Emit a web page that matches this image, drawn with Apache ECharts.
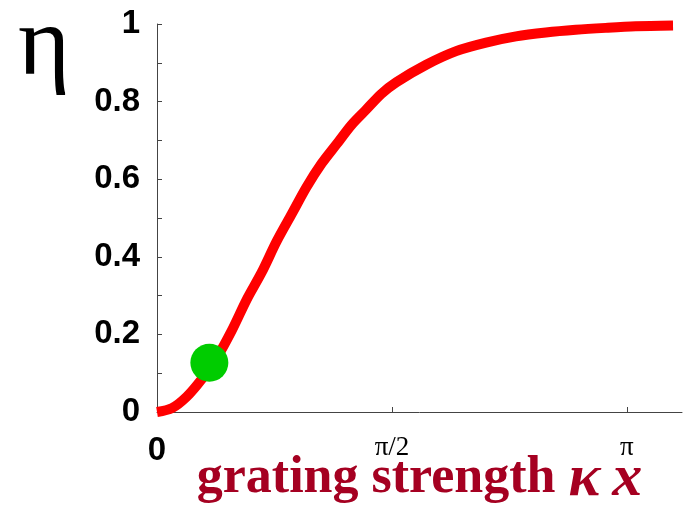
<!DOCTYPE html>
<html>
<head>
<meta charset="utf-8">
<script src="https://cdn.jsdelivr.net/npm/echarts@6/dist/echarts.min.js"></script>
<style>
  html, body { margin: 0; padding: 0; background: #fff; }
  #main { width: 685px; height: 505px; }
</style>
</head>
<body>
<div id="main"></div>
<script>
// grating strength kx (radians) and efficiency
var kx = [0, 0.1, 0.2, 0.3, 0.4, 0.5, 0.6, 0.7, 0.8, 0.9, 1.0, 1.1, 1.2, 1.3, 1.4, 1.5, 1.6, 1.8, 2.0, 2.2, 2.4, 2.6, 2.8, 3.0, 3.2, 3.45];
var eta = [0, 0.01, 0.04, 0.085, 0.14, 0.21, 0.29, 0.36, 0.44, 0.51, 0.58, 0.64, 0.69, 0.74, 0.78, 0.82, 0.85, 0.895, 0.93, 0.952, 0.968, 0.978, 0.985, 0.99, 0.994, 0.996];
// green marker
var markPoint = [0.35, 0.127];
// x tick labels (0, pi/2, pi)
var xTickLabels = ['0', 'π/2', 'π'];

var curve = [];
for (var i = 0; i < kx.length; i++) {
  curve.push([kx[i], eta[i]]);
}

var axisColor = '#444';

var option = {
  backgroundColor: '#fff',
  animation: false,
  grid: {
    left: 157,
    right: 3,
    top: 24,
    bottom: 93,
    containLabel: false,
    outerBoundsMode: 'none'
  },
  graphic: [
    {
      type: 'text',
      left: 18,
      top: -2,
      style: {
        text: 'η',
        font: '100px "Liberation Serif"',
        fill: '#000'
      }
    }
  ],
  xAxis: {
    type: 'value',
    min: 0,
    max: 3.51,
    interval: Math.PI / 2,
    splitLine: { show: false },
    axisLine: { lineStyle: { color: axisColor, width: 1 } },
    axisTick: { inside: true, length: 5, lineStyle: { color: axisColor } },
    axisLabel: {
      margin: 22,
      showMaxLabel: false,
      formatter: function (v) {
        var idx = Math.round(v / (Math.PI / 2));
        if (idx === 0) return '{b|' + xTickLabels[0] + '}';
        return '{s|' + (xTickLabels[idx] || '') + '}';
      },
      rich: {
        b: { fontFamily: 'Liberation Sans', fontWeight: 'bold', fontSize: 33, color: '#000' },
        s: { fontFamily: 'Liberation Serif', fontSize: 27, color: '#000' }
      }
    },
    name: '{a|grating strength }{b|κ\u2009x}',
    nameLocation: 'middle',
    nameGap: 37,
    nameMoveOverlap: false,
    nameTextStyle: {
      rich: {
        a: { fontFamily: 'Liberation Serif', fontWeight: 'bold', fontSize: 52, color: '#a50021' },
        b: { fontFamily: 'Liberation Serif', fontWeight: 'bold', fontStyle: 'italic', fontSize: 60, color: '#a50021' }
      }
    }
  },
  yAxis: {
    type: 'value',
    min: 0,
    max: 1,
    interval: 0.1,
    splitLine: { show: false },
    axisLine: { show: true, lineStyle: { color: axisColor, width: 1 } },
    axisTick: { show: true, inside: true, length: 5, lineStyle: { color: axisColor } },
    axisLabel: {
      margin: 17,
      fontFamily: 'Liberation Sans',
      fontWeight: 'bold',
      fontSize: 33,
      color: '#000',
      formatter: function (v) {
        // only every second tick carries a label
        if (Math.round(v * 10) % 2 === 1) return '';
        return String(Math.round(v * 10) / 10);
      }
    }
  },
  series: [
    {
      name: 'eta',
      type: 'line',
      data: curve,
      smooth: 0.3,
      showSymbol: false,
      lineStyle: { color: '#ff0000', width: 10 },
      z: 2
    },
    {
      name: 'point',
      type: 'scatter',
      data: [markPoint],
      symbolSize: 38,
      itemStyle: { color: '#00cc00', opacity: 1 },
      z: 3
    }
  ]
};

var chart = echarts.init(document.getElementById('main'), null, { renderer: 'canvas' });
chart.setOption(option);
</script>
</body>
</html>
